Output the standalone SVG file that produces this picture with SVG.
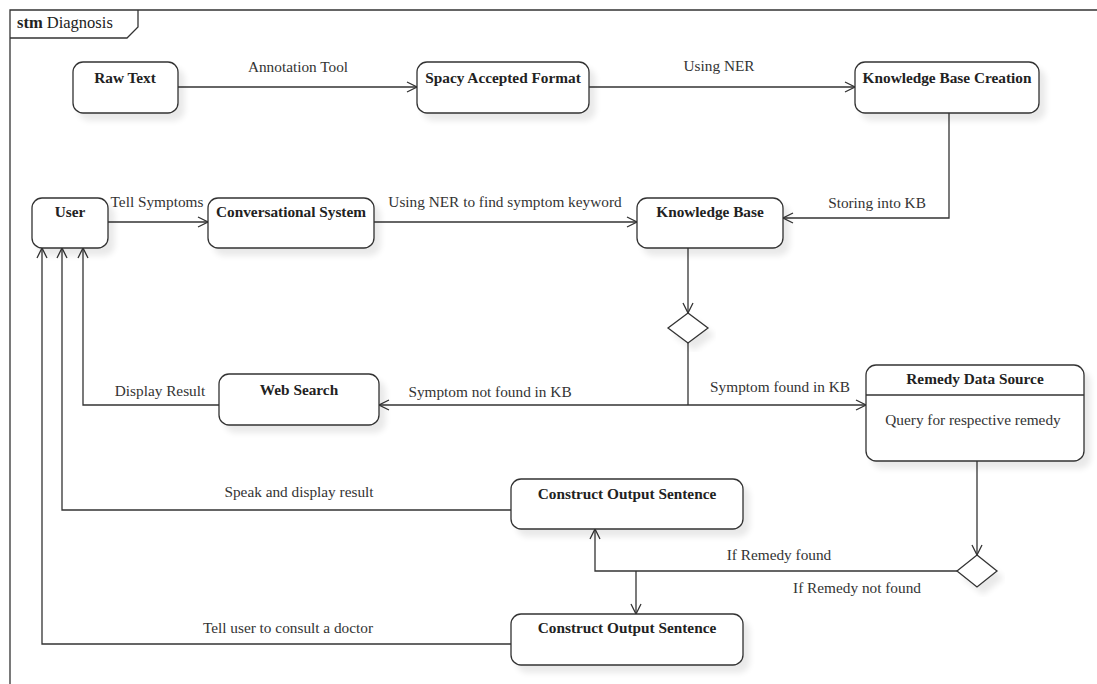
<svg xmlns="http://www.w3.org/2000/svg" width="1097" height="684" viewBox="0 0 1097 684">
<defs>
  <filter id="sh" x="-10%" y="-10%" width="130%" height="140%">
    <feGaussianBlur in="SourceAlpha" stdDeviation="3"/>
    <feOffset dx="6" dy="7" result="b"/>
    <feComponentTransfer><feFuncA type="linear" slope="0.09"/></feComponentTransfer>
    <feMerge><feMergeNode/><feMergeNode in="SourceGraphic"/></feMerge>
  </filter>
  <marker id="arr" viewBox="0 0 12 12" refX="11" refY="6" markerWidth="12" markerHeight="12" markerUnits="userSpaceOnUse" orient="auto">
    <path d="M1,1 L11,6 L1,11" fill="none" stroke="#333" stroke-width="1.3"/>
  </marker>
  <style>
    .box{fill:#fff;stroke:#333;stroke-width:1.3}
    .ln{fill:none;stroke:#333;stroke-width:1.3}
    .ar{fill:none;stroke:#333;stroke-width:1.3;marker-end:url(#arr)}
    .nt{font-family:"Liberation Serif","Times New Roman",serif;font-size:15.3px;font-weight:bold;fill:#222;text-anchor:middle}
    .lb{font-family:"Liberation Serif","Times New Roman",serif;font-size:15.3px;fill:#333;text-anchor:middle}
    .tt{font-family:"Liberation Serif","Times New Roman",serif;font-size:16.5px;fill:#222}
  </style>
</defs>
<rect width="1097" height="684" fill="#fff"/>
<g id="frame">
  <path class="ln" d="M10,684 L10,10 L1097,10"/>
  <path class="ln" d="M10,38 L127,38 L138,27 L138,10"/>
  <text class="tt" x="17" y="28"><tspan font-weight="bold">stm</tspan> Diagnosis</text>
</g>
<g id="connectors">
  <path class="ar" d="M178,87 L417,87"/>
  <path class="ar" d="M589,87 L855,87"/>
  <path class="ar" d="M949,113 L949,218 L783,218"/>
  <path class="ar" d="M108,222 L208,222"/>
  <path class="ar" d="M374,222 L637,222"/>
  <path class="ar" d="M688,248 L688,313"/>
  <path class="ln" d="M688,343 L688,405"/>
  <path class="ar" d="M688,405 L379,405"/>
  <path class="ar" d="M688,405 L866,405"/>
  <path class="ar" d="M219,405 L83,405 L83,248"/>
  <path class="ar" d="M511,510 L62,510 L62,248"/>
  <path class="ar" d="M511,644 L42,644 L42,248"/>
  <path class="ar" d="M977,461 L977,555"/>
  <path class="ar" d="M957,571 L595,571 L595,529"/>
  <path class="ar" d="M636,571 L636,614"/>
  <text class="lb" x="298" y="72">Annotation Tool</text>
  <text class="lb" x="719" y="71">Using NER</text>
  <text class="lb" x="877" y="208">Storing into KB</text>
  <text class="lb" x="157" y="207">Tell Symptoms</text>
  <text class="lb" x="505" y="207">Using NER to find symptom keyword</text>
  <text class="lb" x="160" y="396">Display Result</text>
  <text class="lb" x="490" y="397">Symptom not found in KB</text>
  <text class="lb" x="780" y="392">Symptom found in KB</text>
  <text class="lb" x="299" y="497">Speak and display result</text>
  <text class="lb" x="288" y="633">Tell user to consult a doctor</text>
  <text class="lb" x="779" y="560">If Remedy found</text>
  <text class="lb" x="857" y="593">If Remedy not found</text>
</g>
<g id="raw-text">
  <rect class="box" filter="url(#sh)" x="73" y="62" width="105" height="51" rx="10"/>
  <text class="nt" x="125" y="83">Raw Text</text>
</g>
<g id="spacy-format">
  <rect class="box" filter="url(#sh)" x="417" y="62" width="172" height="51" rx="10"/>
  <text class="nt" x="503" y="83">Spacy Accepted Format</text>
</g>
<g id="kb-creation">
  <rect class="box" filter="url(#sh)" x="855" y="62" width="184" height="51" rx="10"/>
  <text class="nt" x="947" y="83">Knowledge Base Creation</text>
</g>
<g id="user">
  <rect class="box" filter="url(#sh)" x="32" y="198" width="76" height="50" rx="10"/>
  <text class="nt" x="70" y="217">User</text>
</g>
<g id="conversational-system">
  <rect class="box" filter="url(#sh)" x="208" y="198" width="166" height="50" rx="10"/>
  <text class="nt" x="291" y="217">Conversational System</text>
</g>
<g id="knowledge-base">
  <rect class="box" filter="url(#sh)" x="637" y="198" width="146" height="50" rx="10"/>
  <text class="nt" x="710" y="217">Knowledge Base</text>
</g>
<g id="decision-kb">
  <polygon class="box" filter="url(#sh)" points="688,313 708,328 688,343 668,328"/>
</g>
<g id="web-search">
  <rect class="box" filter="url(#sh)" x="219" y="374" width="160" height="51" rx="10"/>
  <text class="nt" x="299" y="395">Web Search</text>
</g>
<g id="remedy-data-source">
  <rect class="box" filter="url(#sh)" x="866" y="365" width="218" height="96" rx="10"/>
  <line class="ln" x1="866" y1="395" x2="1084" y2="395"/>
  <text class="nt" x="975" y="384">Remedy Data Source</text>
  <text class="lb" x="973" y="425">Query for respective remedy</text>
</g>
<g id="decision-remedy">
  <polygon class="box" filter="url(#sh)" points="977,555 997,571 977,587 957,571"/>
</g>
<g id="output-sentence-1">
  <rect class="box" filter="url(#sh)" x="511" y="479" width="232" height="50" rx="10"/>
  <text class="nt" x="627" y="499">Construct Output Sentence</text>
</g>
<g id="output-sentence-2">
  <rect class="box" filter="url(#sh)" x="511" y="614" width="232" height="51" rx="10"/>
  <text class="nt" x="627" y="633">Construct Output Sentence</text>
</g>
</svg>
